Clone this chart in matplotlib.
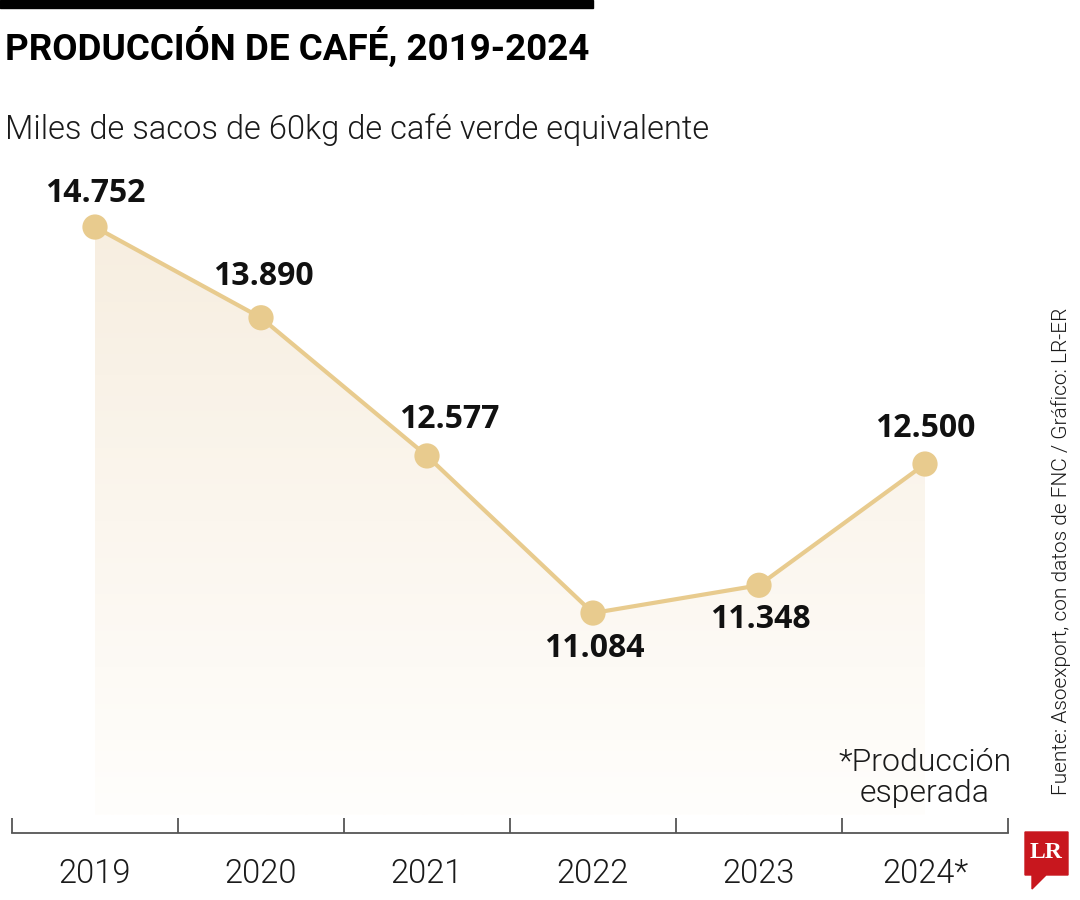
import matplotlib
matplotlib.use("Agg")
import matplotlib.pyplot as plt
import numpy as np
from matplotlib.patches import Polygon, Rectangle

# data
years = ["2019", "2020", "2021", "2022", "2023", "2024*"]
produccion = [14752, 13890, 12577, 11084, 11348, 12500]
etiquetas = ["14.752", "13.890", "12.577", "11.084", "11.348", "12.500"]
# label offsets in px (dx, dy) relative to point
offsets = [(0, 34), (2, 41), (22, 36), (1, -35), (1, -34), (0, 36)]

line_col = "#E8CB8E"
sans = ["Open Sans", "DejaVu Sans"]
light = ["Roboto", "DejaVu Sans"]
lw_txt = 300

fig = plt.figure(figsize=(10.8, 9), dpi=100)
fig.patch.set_facecolor("white")

# chart axes: x from px 12 to 1008, y from px 170 to 833
ax = fig.add_axes([12 / 1080, (900 - 833) / 900, 996 / 1080, 663 / 900])
x = np.arange(len(produccion))
ax.patch.set_alpha(0)

# gradient fill under line
base = 9165
poly = ax.fill_between(x, produccion, base, color="none", lw=0)
grad = np.zeros((200, 1, 4))
top = np.array([0xF7, 0xEE, 0xE0]) / 255
bot = np.array([0xFF, 0xFE, 0xFC]) / 255
t = np.linspace(0, 1, 200)[:, None]
grad[:, 0, :3] = top * (1 - t) + bot * t
grad[:, 0, 3] = 1
img = ax.imshow(grad, extent=[0, 5, base, max(produccion)], aspect="auto",
                origin="upper", zorder=1, interpolation="bilinear")
img.set_clip_path(poly.get_paths()[0], transform=ax.transData)
ax.set_xlim(-0.5, 5.5)
ax.set_ylim(8994, 15294)

ax.plot(x, produccion, color=line_col, lw=3, zorder=3)
ax.scatter(x, produccion, s=330, color=line_col, zorder=4, edgecolors="none")

for xi, yi, lab, (dx, dy) in zip(x, produccion, etiquetas, offsets):
    ax.annotate(lab, (xi, yi), xytext=(dx * 0.72, dy * 0.72), textcoords="offset points",
                ha="center", va="center", fontsize=23, fontweight="bold",
                family=sans, color="#111111", zorder=5)

# axis
for s in ["top", "right", "left"]:
    ax.spines[s].set_visible(False)
ax.spines["bottom"].set_color("#555555")
ax.spines["bottom"].set_linewidth(1.3)
ax.set_yticks([])
ax.set_xticks(np.arange(-0.5, 6.0, 1.0))
ax.set_xticklabels([])
ax.tick_params(axis="x", which="major", direction="in", length=11, width=1.3, color="#555555")
ax.set_xticks(x, minor=True)
ax.set_xticklabels(years, minor=True, family=light, fontweight=lw_txt, fontsize=23.5,
                   color="#1a1a1a")
ax.tick_params(axis="x", which="minor", length=0, pad=18)

ax.text(5, 9516, "*Producción\nesperada", ha="center", va="center", fontsize=23,
        family=light, fontweight=lw_txt, color="#1a1a1a", linespacing=1.1, zorder=5)

# overlay in pixel coords
ov = fig.add_axes([0, 0, 1, 1])
ov.set_xlim(0, 1080)
ov.set_ylim(900, 0)
ov.axis("off")
ov.patch.set_alpha(0)

ov.add_patch(Rectangle((0, 0), 593, 8, color="black"))
ov.text(5, 47, "PRODUCCIÓN DE CAFÉ, 2019-2024", fontsize=26.5, fontweight="bold",
        family=["Roboto", "DejaVu Sans"], va="center", ha="left", color="black")
ov.text(5, 130, "Miles de sacos de 60kg de café verde equivalente", fontsize=23.5,
        family=light, fontweight=lw_txt, va="center", ha="left", color="#1a1a1a")

ov.text(1061, 551, "Fuente: Asoexport, con datos de FNC / Gráfico: LR-ER", rotation=90,
        fontsize=15, family=light, fontweight=lw_txt, va="center", ha="center",
        color="#1a1a1a")

# LR logo
ov.add_patch(Polygon([(1025, 832), (1068, 832), (1068, 875), (1046, 875),
                      (1032, 889), (1032, 875), (1025, 875)], closed=True,
                     color="#C8171E"))
ov.text(1046.5, 853, "LR", fontsize=17, fontweight="bold",
        family=["Liberation Serif", "DejaVu Serif"],
        color="white", ha="center", va="center")

fig.savefig("out.png", dpi=100, facecolor="white")
